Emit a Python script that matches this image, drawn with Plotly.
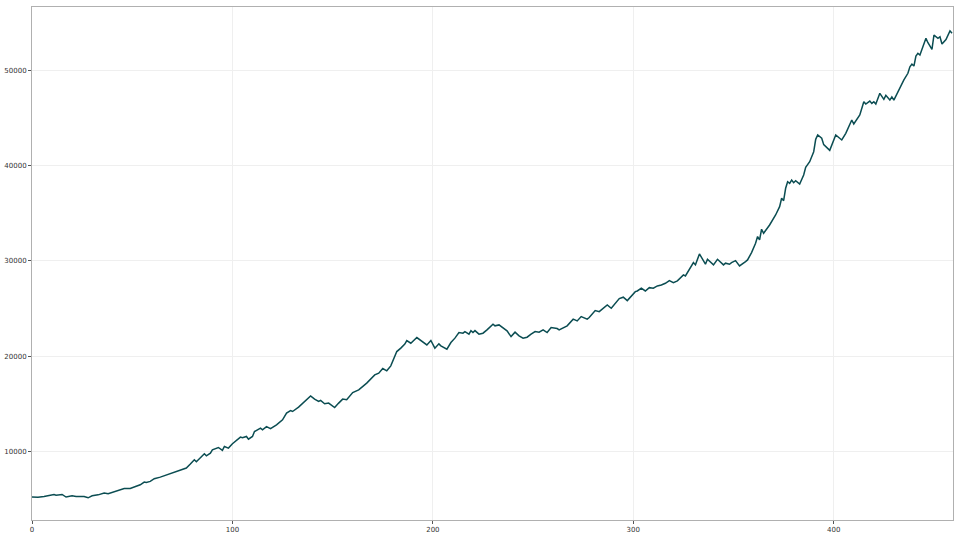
import plotly.graph_objects as go

# index positions (x) and values
x_idx = [0, 3, 6, 8, 11, 12, 15, 17, 20, 22, 25, 26, 28, 30, 33, 36, 38, 41, 44, 46,
         49, 51, 54, 56, 57, 59, 61, 64, 67, 71, 74, 77, 79, 81, 82, 84, 85, 86, 87, 89,
         90, 93, 95, 96, 98, 100, 104, 105, 107, 108, 110, 111, 114, 115, 117, 119, 122, 125, 127, 129,
         130, 133, 136, 139, 141, 143, 144, 146, 148, 151, 153, 155, 157, 160, 163, 165,
         167, 171, 173, 175, 177, 179, 182, 184, 186, 187, 189, 192, 194, 197, 199, 201, 203, 204,
         207, 209, 211, 213, 215, 216, 218, 219, 220, 221, 223, 225, 227, 230, 231, 233, 237, 239,
         241, 243, 245, 247, 249, 251,
         253, 255, 257, 259, 262, 263, 267, 270, 272, 274, 277, 278, 281, 283, 287, 289, 293, 295,
         297, 301, 302, 304, 306, 308, 310, 312, 314, 316, 318, 320, 322, 325, 326,
         328, 330, 331, 333, 336, 337, 340, 342, 345, 346, 348, 349, 351, 353, 356, 357, 359, 361,
         362, 363, 364, 365, 368, 371, 373, 374, 375, 376, 377, 378, 379, 380, 381, 383, 385, 386,
         388, 390, 391, 392, 394, 395, 398, 400, 401, 404, 406, 409, 410, 413, 415, 416, 418, 419,
         420, 421, 423, 425, 426, 428, 429, 430, 432, 435, 437, 438, 439, 440, 441, 442, 443, 444,
         446, 447, 449, 450, 452, 453, 454, 456, 458, 459]

values = [5210, 5200, 5270, 5340, 5480, 5410, 5480, 5210, 5340, 5270, 5310, 5270, 5130, 5340, 5440, 5630, 5560, 5760, 5900, 6110,
          6110, 6250, 6500, 6780, 6740, 6850, 7130, 7300, 7510, 7790, 8000, 8250, 8670, 9120, 8910, 9400, 9540, 9750, 9540, 9820,
          10170, 10410, 10100, 10520, 10350, 10800, 11500, 11430, 11570, 11290, 11570, 12090, 12440, 12270, 12610, 12400, 12790, 13320, 14020, 14290,
          14190, 14650, 15240, 15830, 15490, 15240, 15350, 15000, 15070, 14610, 15070, 15490, 15420, 16180, 16460, 16810,
          17170, 18030, 18210, 18700, 18460, 18980, 20480, 20840, 21260, 21640, 21360, 21950, 21640, 21180, 21640, 20840, 21290, 21080,
          20730, 21430, 21890, 22480, 22410, 22580, 22310, 22680, 22480, 22680, 22310, 22410, 22760, 23360, 23180, 23280, 22650, 22050,
          22520, 22130, 21890, 21990, 22310, 22580,
          22510, 22760, 22480, 23000, 22900, 22760, 23180, 23880, 23700, 24150, 23880, 24050, 24780, 24670, 25380, 25030, 26040, 26190,
          25830, 26770, 26840, 27130, 26840, 27190, 27130, 27370, 27470, 27650, 27930, 27720, 27900, 28530, 28420,
          29120, 29820, 29580, 30730, 29650, 30170, 29580, 30170, 29580, 29760, 29650, 29820, 30030, 29470, 29920, 30100, 30870, 31850,
          32550, 32200, 33320, 32900, 33770, 34820, 35690, 36570, 36320, 37620, 38310, 38140, 38490, 38210, 38420, 38070, 39020, 39820,
          40410, 41460, 42760, 43210, 42870, 42200, 41600, 42700, 43210, 42690, 43390, 44790, 44370, 45310, 46710, 46460, 46780, 46530,
          46710, 46460, 47590, 46960, 47380, 46880, 47220, 46880, 47760, 48990, 49690, 50380, 50660, 50450, 51500, 51780, 51610, 52130,
          53360, 52900, 52200, 53700, 53360, 53530, 52760, 53240, 54150, 53900]

x_ticks = [0, 100, 200, 300, 400]
y_ticks = [10000, 20000, 30000, 40000, 50000]

fig = go.Figure()
fig.add_trace(go.Scatter(x=x_idx, y=values, mode="lines",
                         line=dict(color="#0b4d52", width=1.5), showlegend=False))

axis_common = dict(showline=True, linecolor="#b0b0b0", linewidth=1, mirror=True,
                   showgrid=True, gridcolor="#efefef", gridwidth=1, zeroline=False,
                   ticks="outside", ticklen=3, tickcolor="#555555", tickwidth=1,
                   automargin=False,
                   tickfont=dict(family="DejaVu Sans", size=7, color="#333333"))

fig.update_xaxes(range=[0, 459.5], tickvals=x_ticks, ticktext=[str(v) for v in x_ticks],
                 **axis_common)
fig.update_yaxes(range=[2800, 56650], tickvals=y_ticks, ticktext=[str(v) for v in y_ticks],
                 **axis_common)

fig.update_layout(width=960, height=540, margin=dict(l=32, r=7, t=7, b=20),
                  plot_bgcolor="white", paper_bgcolor="white")

fig.write_html("out.html")
